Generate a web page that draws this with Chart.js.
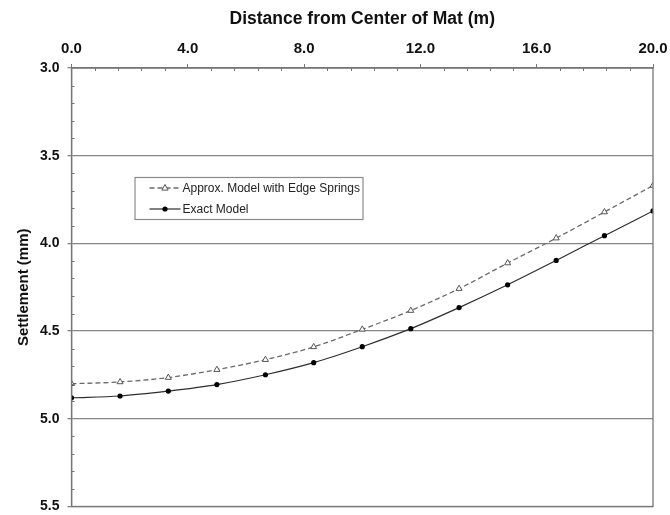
<!DOCTYPE html>
<html>
<head>
<meta charset="utf-8">
<script src="https://cdn.jsdelivr.net/npm/chart.js@4/dist/chart.umd.min.js"></script>
<style>
  html, body { margin: 0; padding: 0; background: #fff; }
  #wrap { width: 670px; height: 515px; position: relative; }
</style>
</head>
<body>
<div id="wrap"><canvas id="c"></canvas></div>
<script>
// Distance from the centre of the mat (m)
const distance = [0, 1.67, 3.33, 5.0, 6.67, 8.33, 10.0, 11.67, 13.33, 15.0, 16.67, 18.33, 20.0];
// Settlement (mm) for each model
const approxSettlement = [4.80, 4.79, 4.765, 4.72, 4.663, 4.59, 4.49, 4.383, 4.258, 4.112, 3.97, 3.821, 3.67];
const exactSettlement  = [4.88, 4.87, 4.842, 4.805, 4.749, 4.68, 4.589, 4.486, 4.366, 4.236, 4.097, 3.956, 3.815];
const seriesNames = ['Approx. Model with Edge Springs', 'Exact Model'];
const xTitle = 'Distance from Center of Mat (m)';
const yTitle = 'Settlement (mm)';

const FONT = '"Liberation Sans", Arial, sans-serif';
const AXIS_GREY = '#767676';

const toPoints = (xs, ys) => xs.map((x, i) => ({ x, y: ys[i] }));

// minor tick marks pointing into the plot, plus the closing frame
const minorTicks = {
  id: 'minorTicks',
  afterDraw(chart) {
    const { ctx, chartArea: a, scales: { x, y } } = chart;
    ctx.save();
    ctx.strokeStyle = AXIS_GREY;
    ctx.lineWidth = 1;
    ctx.beginPath();
    for (let i = 1; i < 25; i++) {
      if (i % 5 === 0) continue;
      const px = Math.round(x.getPixelForValue(i * 0.8)) + 0.5;
      ctx.moveTo(px, a.top); ctx.lineTo(px, a.top + 3);
    }
    for (let i = 1; i < 25; i++) {
      if (i % 5 === 0) continue;
      const py = Math.round(y.getPixelForValue(3 + i * 0.1)) + 0.5;
      ctx.moveTo(a.left, py); ctx.lineTo(a.left + 3, py);
    }
    ctx.stroke();
    ctx.lineWidth = 1.3;
    ctx.strokeRect(a.left, a.top, a.right - a.left, a.bottom - a.top);
    ctx.restore();
  }
};

// boxed legend sitting inside the plot area
const insetLegend = {
  id: 'insetLegend',
  afterDraw(chart) {
    const { ctx, chartArea: a } = chart;
    const bx = a.left + 63, by = a.top + 109, bw = 228, bh = 42;
    ctx.save();
    ctx.fillStyle = '#fff';
    ctx.fillRect(bx, by, bw, bh);
    ctx.strokeStyle = '#8a8a8a';
    ctx.lineWidth = 1.2;
    ctx.strokeRect(bx + 0.5, by + 0.5, bw, bh);
    chart.data.datasets.forEach((ds, i) => {
      const cy = by + 11 + i * 21;
      const x0 = bx + 15, x1 = bx + 46, mx = (x0 + x1) / 2;
      ctx.strokeStyle = ds.borderColor;
      ctx.lineWidth = ds.borderWidth;
      ctx.setLineDash(ds.borderDash || []);
      ctx.beginPath(); ctx.moveTo(x0, cy); ctx.lineTo(x1, cy); ctx.stroke();
      ctx.setLineDash([]);
      ctx.lineWidth = 1;
      ctx.beginPath();
      if (ds.pointStyle === 'triangle') {
        const r = ds.pointRadius;
        ctx.moveTo(mx, cy - r);
        ctx.lineTo(mx + r * 0.9, cy + r * 0.6);
        ctx.lineTo(mx - r * 0.9, cy + r * 0.6);
        ctx.closePath();
        ctx.fillStyle = ds.pointBackgroundColor; ctx.fill();
        ctx.strokeStyle = ds.pointBorderColor; ctx.stroke();
      } else {
        ctx.arc(mx, cy, ds.pointRadius, 0, Math.PI * 2);
        ctx.fillStyle = ds.pointBackgroundColor; ctx.fill();
      }
      ctx.fillStyle = '#222';
      ctx.font = '12px ' + FONT;
      ctx.textBaseline = 'middle';
      ctx.textAlign = 'left';
      ctx.fillText(ds.label, x1 + 2, cy + 0.5);
    });
    ctx.restore();
  }
};

new Chart(document.getElementById('c'), {
  type: 'line',
  data: {
    datasets: [
      {
        label: seriesNames[0],
        data: toPoints(distance, approxSettlement),
        borderColor: '#6a6a6a',
        borderWidth: 1.3,
        borderDash: [5, 3],
        pointStyle: 'triangle',
        pointRadius: 3.5,
        pointBackgroundColor: '#ffffff',
        pointBorderColor: '#555555',
        pointBorderWidth: 1,
        cubicInterpolationMode: 'monotone',
        fill: false
      },
      {
        label: seriesNames[1],
        data: toPoints(distance, exactSettlement),
        borderColor: '#2e2e2e',
        borderWidth: 1.2,
        pointStyle: 'circle',
        pointRadius: 2.6,
        pointBackgroundColor: '#000000',
        pointBorderColor: '#000000',
        pointBorderWidth: 0,
        cubicInterpolationMode: 'monotone',
        fill: false
      }
    ]
  },
  options: {
    responsive: true,
    maintainAspectRatio: false,
    animation: false,
    devicePixelRatio: 1,
    layout: { padding: { top: 0, left: 0, right: 17, bottom: 8.5 } },
    plugins: { legend: { display: false }, tooltip: { enabled: false } },
    scales: {
      x: {
        type: 'linear',
        position: 'top',
        min: 0,
        max: 20,
        afterFit(s) { s.height = 68; s.paddingLeft = 0; s.paddingRight = 0; },
        ticks: {
          stepSize: 4,
          padding: 6,
          color: '#111',
          font: { family: FONT, size: 15, weight: 'bold' },
          callback: v => Number(v).toFixed(1),
          maxRotation: 0
        },
        grid: { drawOnChartArea: false, drawTicks: true, tickLength: 4, color: AXIS_GREY, lineWidth: 1 },
        border: { display: true, color: AXIS_GREY, width: 1.3 },
        title: {
          display: true,
          text: xTitle,
          color: '#111',
          font: { family: FONT, size: 17.5, weight: 'bold' },
          padding: { top: 9, bottom: 0 }
        }
      },
      y: {
        type: 'linear',
        reverse: true,
        min: 3.0,
        max: 5.5,
        afterFit(s) { s.width = 71.5; s.paddingTop = 0; s.paddingBottom = 0; },
        ticks: {
          stepSize: 0.5,
          padding: 8,
          color: '#111',
          font: { family: FONT, size: 14, weight: 'bold' },
          callback: v => Number(v).toFixed(1)
        },
        grid: { drawOnChartArea: true, drawTicks: true, tickLength: 4, color: '#858585', lineWidth: 1.3 },
        border: { display: true, color: AXIS_GREY, width: 1.3 },
        title: {
          display: true,
          text: yTitle,
          color: '#111',
          font: { family: FONT, size: 15, weight: 'bold' },
          padding: { top: 15, bottom: 0 }
        }
      }
    }
  },
  plugins: [minorTicks, insetLegend]
});
</script>
</body>
</html>
